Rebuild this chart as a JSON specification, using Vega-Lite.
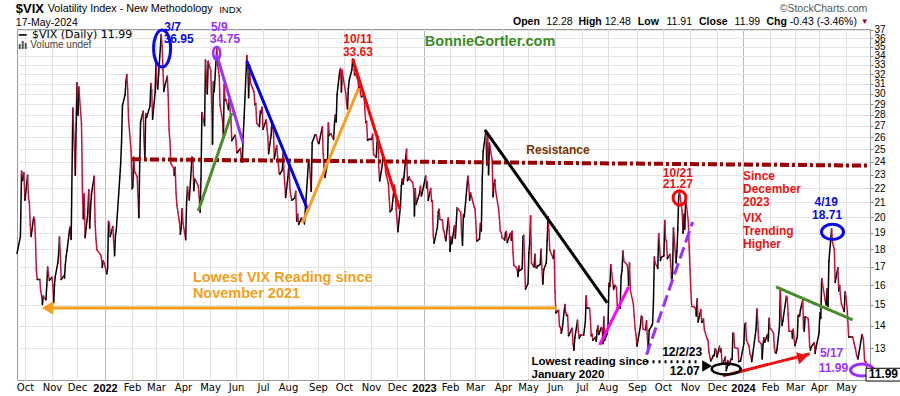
{
"$schema": "https://vega.github.io/schema/vega-lite/v6.json",
"width": 853, "height": 351,
"autosize": {"type": "none"},
"padding": {"left": 17, "top": 29, "right": 30, "bottom": 16},
"background": "white",
"config": {"view": {"stroke": "#9a9a9a", "strokeWidth": 1}, "text": {"font": "Liberation Sans"}},
"datasets": {"vix": [
{"d":"2021-09-24","v":17.75},{"d":"2021-09-27","v":18.76},{"d":"2021-09-28","v":23.25},{"d":"2021-09-29","v":22.56},{"d":"2021-09-30","v":23.14},
{"d":"2021-10-01","v":21.15},{"d":"2021-10-04","v":22.96},{"d":"2021-10-05","v":21.30},{"d":"2021-10-06","v":21.00},{"d":"2021-10-07","v":19.54},{"d":"2021-10-08","v":18.77},{"d":"2021-10-11","v":20.00},{"d":"2021-10-12","v":19.85},{"d":"2021-10-13","v":18.64},{"d":"2021-10-14","v":16.86},{"d":"2021-10-15","v":16.30},{"d":"2021-10-18","v":16.30},{"d":"2021-10-19","v":15.70},{"d":"2021-10-20","v":15.49},{"d":"2021-10-21","v":15.01},{"d":"2021-10-22","v":15.43},{"d":"2021-10-25","v":15.24},{"d":"2021-10-26","v":15.98},{"d":"2021-10-27","v":16.98},{"d":"2021-10-28","v":16.53},{"d":"2021-10-29","v":16.26},
{"d":"2021-11-01","v":16.41},{"d":"2021-11-02","v":16.03},{"d":"2021-11-03","v":15.10},{"d":"2021-11-04","v":16.00},{"d":"2021-11-05","v":16.48},{"d":"2021-11-08","v":17.22},{"d":"2021-11-09","v":17.78},{"d":"2021-11-10","v":18.73},{"d":"2021-11-11","v":17.66},{"d":"2021-11-12","v":16.29},{"d":"2021-11-15","v":16.49},{"d":"2021-11-16","v":16.37},{"d":"2021-11-17","v":17.11},{"d":"2021-11-18","v":17.59},{"d":"2021-11-19","v":17.91},{"d":"2021-11-22","v":19.17},{"d":"2021-11-23","v":19.38},{"d":"2021-11-24","v":18.58},{"d":"2021-11-26","v":28.62},{"d":"2021-11-29","v":22.96},{"d":"2021-11-30","v":27.19},
{"d":"2021-12-01","v":31.12},{"d":"2021-12-02","v":27.95},{"d":"2021-12-03","v":30.67},{"d":"2021-12-06","v":27.18},{"d":"2021-12-07","v":21.89},{"d":"2021-12-08","v":19.90},{"d":"2021-12-09","v":21.58},{"d":"2021-12-10","v":18.69},{"d":"2021-12-13","v":20.31},{"d":"2021-12-14","v":21.89},{"d":"2021-12-15","v":19.29},{"d":"2021-12-16","v":20.57},{"d":"2021-12-17","v":21.57},{"d":"2021-12-20","v":22.87},{"d":"2021-12-21","v":19.70},{"d":"2021-12-22","v":18.63},{"d":"2021-12-23","v":17.96},{"d":"2021-12-27","v":17.68},{"d":"2021-12-28","v":17.54},{"d":"2021-12-29","v":16.95},{"d":"2021-12-30","v":17.33},{"d":"2021-12-31","v":17.22},
{"d":"2022-01-03","v":16.60},{"d":"2022-01-04","v":16.91},{"d":"2022-01-05","v":19.73},{"d":"2022-01-06","v":19.61},{"d":"2022-01-07","v":18.76},{"d":"2022-01-10","v":19.40},{"d":"2022-01-11","v":18.41},{"d":"2022-01-12","v":17.62},{"d":"2022-01-13","v":18.83},{"d":"2022-01-14","v":19.19},{"d":"2022-01-18","v":22.79},{"d":"2022-01-19","v":23.85},{"d":"2022-01-20","v":25.59},{"d":"2022-01-21","v":28.85},{"d":"2022-01-24","v":29.90},{"d":"2022-01-25","v":31.16},{"d":"2022-01-26","v":31.96},{"d":"2022-01-27","v":30.49},{"d":"2022-01-28","v":27.66},{"d":"2022-01-31","v":24.83},
{"d":"2022-02-01","v":21.96},{"d":"2022-02-02","v":22.09},{"d":"2022-02-03","v":24.35},{"d":"2022-02-04","v":23.22},{"d":"2022-02-07","v":22.86},{"d":"2022-02-08","v":21.44},{"d":"2022-02-09","v":19.96},{"d":"2022-02-10","v":23.91},{"d":"2022-02-11","v":27.36},{"d":"2022-02-14","v":28.33},{"d":"2022-02-15","v":25.70},{"d":"2022-02-16","v":24.29},{"d":"2022-02-17","v":28.11},{"d":"2022-02-18","v":27.75},{"d":"2022-02-22","v":28.81},{"d":"2022-02-23","v":31.02},{"d":"2022-02-24","v":30.32},{"d":"2022-02-25","v":27.59},{"d":"2022-02-28","v":30.15},
{"d":"2022-03-01","v":33.32},{"d":"2022-03-02","v":31.00},{"d":"2022-03-03","v":30.48},{"d":"2022-03-04","v":31.98},{"d":"2022-03-07","v":36.45},{"d":"2022-03-08","v":35.13},{"d":"2022-03-09","v":32.45},{"d":"2022-03-10","v":30.23},{"d":"2022-03-11","v":30.75},{"d":"2022-03-14","v":31.77},{"d":"2022-03-15","v":29.83},{"d":"2022-03-16","v":26.67},{"d":"2022-03-17","v":25.67},{"d":"2022-03-18","v":23.87},{"d":"2022-03-21","v":23.53},{"d":"2022-03-22","v":22.94},{"d":"2022-03-23","v":23.57},{"d":"2022-03-24","v":21.67},{"d":"2022-03-25","v":20.81},{"d":"2022-03-28","v":19.63},{"d":"2022-03-29","v":18.90},{"d":"2022-03-30","v":19.33},{"d":"2022-03-31","v":20.56},
{"d":"2022-04-01","v":19.63},{"d":"2022-04-04","v":18.57},{"d":"2022-04-05","v":21.03},{"d":"2022-04-06","v":22.10},{"d":"2022-04-07","v":21.55},{"d":"2022-04-08","v":21.16},{"d":"2022-04-11","v":24.37},{"d":"2022-04-12","v":24.26},{"d":"2022-04-13","v":21.82},{"d":"2022-04-14","v":22.70},{"d":"2022-04-18","v":22.17},{"d":"2022-04-19","v":21.37},{"d":"2022-04-20","v":20.32},{"d":"2022-04-21","v":22.68},{"d":"2022-04-22","v":28.21},{"d":"2022-04-25","v":27.02},{"d":"2022-04-26","v":33.52},{"d":"2022-04-27","v":31.60},{"d":"2022-04-28","v":29.99},{"d":"2022-04-29","v":33.40},
{"d":"2022-05-02","v":32.34},{"d":"2022-05-03","v":29.25},{"d":"2022-05-04","v":25.42},{"d":"2022-05-05","v":31.20},{"d":"2022-05-06","v":30.19},{"d":"2022-05-09","v":34.75},{"d":"2022-05-10","v":32.99},{"d":"2022-05-11","v":32.56},{"d":"2022-05-12","v":31.77},{"d":"2022-05-13","v":28.87},{"d":"2022-05-16","v":27.47},{"d":"2022-05-17","v":26.10},{"d":"2022-05-18","v":30.96},{"d":"2022-05-19","v":29.35},{"d":"2022-05-20","v":29.43},{"d":"2022-05-23","v":28.48},{"d":"2022-05-24","v":29.45},{"d":"2022-05-25","v":28.37},{"d":"2022-05-26","v":27.50},{"d":"2022-05-27","v":25.72},{"d":"2022-05-31","v":26.19},
{"d":"2022-06-01","v":25.69},{"d":"2022-06-02","v":24.72},{"d":"2022-06-03","v":24.79},{"d":"2022-06-06","v":25.07},{"d":"2022-06-07","v":24.02},{"d":"2022-06-08","v":23.96},{"d":"2022-06-09","v":26.09},{"d":"2022-06-10","v":27.75},{"d":"2022-06-13","v":34.02},{"d":"2022-06-14","v":32.69},{"d":"2022-06-15","v":29.62},{"d":"2022-06-16","v":32.95},{"d":"2022-06-17","v":31.13},{"d":"2022-06-21","v":30.19},{"d":"2022-06-22","v":28.95},{"d":"2022-06-23","v":29.05},{"d":"2022-06-24","v":27.23},{"d":"2022-06-27","v":26.95},{"d":"2022-06-28","v":28.36},{"d":"2022-06-29","v":28.16},{"d":"2022-06-30","v":28.71},
{"d":"2022-07-01","v":26.70},{"d":"2022-07-05","v":27.54},{"d":"2022-07-06","v":26.73},{"d":"2022-07-07","v":26.08},{"d":"2022-07-08","v":24.64},{"d":"2022-07-11","v":26.17},{"d":"2022-07-12","v":27.29},{"d":"2022-07-13","v":26.82},{"d":"2022-07-14","v":26.40},{"d":"2022-07-15","v":24.23},{"d":"2022-07-18","v":25.30},{"d":"2022-07-19","v":24.50},{"d":"2022-07-20","v":23.88},{"d":"2022-07-21","v":23.11},{"d":"2022-07-22","v":23.03},{"d":"2022-07-25","v":23.36},{"d":"2022-07-26","v":24.69},{"d":"2022-07-27","v":23.24},{"d":"2022-07-28","v":22.33},{"d":"2022-07-29","v":21.33},
{"d":"2022-08-01","v":22.84},{"d":"2022-08-02","v":23.93},{"d":"2022-08-03","v":21.95},{"d":"2022-08-04","v":21.44},{"d":"2022-08-05","v":21.15},{"d":"2022-08-08","v":21.29},{"d":"2022-08-09","v":21.77},{"d":"2022-08-10","v":19.74},{"d":"2022-08-11","v":20.20},{"d":"2022-08-12","v":19.53},{"d":"2022-08-15","v":19.95},{"d":"2022-08-16","v":19.69},{"d":"2022-08-17","v":19.90},{"d":"2022-08-18","v":19.56},{"d":"2022-08-19","v":20.60},{"d":"2022-08-22","v":23.80},{"d":"2022-08-23","v":24.11},{"d":"2022-08-24","v":22.82},{"d":"2022-08-25","v":21.78},{"d":"2022-08-26","v":25.56},{"d":"2022-08-29","v":26.21},{"d":"2022-08-30","v":26.21},{"d":"2022-08-31","v":25.87},
{"d":"2022-09-01","v":25.56},{"d":"2022-09-02","v":25.47},{"d":"2022-09-06","v":26.91},{"d":"2022-09-07","v":24.64},{"d":"2022-09-08","v":23.61},{"d":"2022-09-09","v":22.79},{"d":"2022-09-12","v":23.87},{"d":"2022-09-13","v":27.27},{"d":"2022-09-14","v":26.16},{"d":"2022-09-15","v":26.27},{"d":"2022-09-16","v":26.30},{"d":"2022-09-19","v":25.81},{"d":"2022-09-20","v":27.16},{"d":"2022-09-21","v":27.99},{"d":"2022-09-22","v":27.35},{"d":"2022-09-23","v":29.92},{"d":"2022-09-26","v":32.26},{"d":"2022-09-27","v":32.60},{"d":"2022-09-28","v":30.18},{"d":"2022-09-29","v":32.45},{"d":"2022-09-30","v":31.62},
{"d":"2022-10-03","v":30.10},{"d":"2022-10-04","v":29.07},{"d":"2022-10-05","v":28.55},{"d":"2022-10-06","v":30.52},{"d":"2022-10-07","v":31.36},{"d":"2022-10-10","v":32.45},{"d":"2022-10-11","v":33.63},{"d":"2022-10-12","v":33.57},{"d":"2022-10-13","v":31.94},{"d":"2022-10-14","v":32.02},{"d":"2022-10-17","v":31.37},{"d":"2022-10-18","v":30.50},{"d":"2022-10-19","v":30.76},{"d":"2022-10-20","v":29.98},{"d":"2022-10-21","v":29.69},{"d":"2022-10-24","v":29.85},{"d":"2022-10-25","v":28.46},{"d":"2022-10-26","v":27.28},{"d":"2022-10-27","v":27.39},{"d":"2022-10-28","v":25.75},{"d":"2022-10-31","v":25.88},
{"d":"2022-11-01","v":25.81},{"d":"2022-11-02","v":25.86},{"d":"2022-11-03","v":26.27},{"d":"2022-11-04","v":24.55},{"d":"2022-11-07","v":24.35},{"d":"2022-11-08","v":25.54},{"d":"2022-11-09","v":26.09},{"d":"2022-11-10","v":23.53},{"d":"2022-11-11","v":22.52},{"d":"2022-11-14","v":23.73},{"d":"2022-11-15","v":24.54},{"d":"2022-11-16","v":24.11},{"d":"2022-11-17","v":23.93},{"d":"2022-11-18","v":23.12},{"d":"2022-11-21","v":22.36},{"d":"2022-11-22","v":21.27},{"d":"2022-11-23","v":20.35},{"d":"2022-11-25","v":20.50},{"d":"2022-11-28","v":22.21},{"d":"2022-11-29","v":21.89},{"d":"2022-11-30","v":20.58},
{"d":"2022-12-01","v":19.84},{"d":"2022-12-02","v":19.06},{"d":"2022-12-05","v":20.75},{"d":"2022-12-06","v":22.15},{"d":"2022-12-07","v":22.68},{"d":"2022-12-08","v":22.29},{"d":"2022-12-09","v":22.83},{"d":"2022-12-12","v":25.00},{"d":"2022-12-13","v":22.55},{"d":"2022-12-14","v":22.67},{"d":"2022-12-15","v":22.83},{"d":"2022-12-16","v":22.62},{"d":"2022-12-19","v":22.42},{"d":"2022-12-20","v":21.97},{"d":"2022-12-21","v":20.07},{"d":"2022-12-22","v":21.97},{"d":"2022-12-23","v":20.87},{"d":"2022-12-27","v":21.65},{"d":"2022-12-28","v":22.14},{"d":"2022-12-29","v":21.44},{"d":"2022-12-30","v":21.67},
{"d":"2023-01-03","v":22.90},{"d":"2023-01-04","v":22.01},{"d":"2023-01-05","v":22.46},{"d":"2023-01-06","v":21.13},{"d":"2023-01-09","v":21.97},{"d":"2023-01-10","v":21.09},{"d":"2023-01-11","v":21.12},{"d":"2023-01-12","v":18.83},{"d":"2023-01-13","v":18.35},{"d":"2023-01-17","v":19.36},{"d":"2023-01-18","v":20.34},{"d":"2023-01-19","v":20.52},{"d":"2023-01-20","v":19.85},{"d":"2023-01-23","v":19.81},{"d":"2023-01-24","v":19.20},{"d":"2023-01-25","v":19.08},{"d":"2023-01-26","v":18.73},{"d":"2023-01-27","v":18.51},{"d":"2023-01-30","v":19.94},{"d":"2023-01-31","v":19.40},
{"d":"2023-02-01","v":17.87},{"d":"2023-02-02","v":18.73},{"d":"2023-02-03","v":18.33},{"d":"2023-02-06","v":19.43},{"d":"2023-02-07","v":18.66},{"d":"2023-02-08","v":19.63},{"d":"2023-02-09","v":20.63},{"d":"2023-02-10","v":20.53},{"d":"2023-02-13","v":20.34},{"d":"2023-02-14","v":18.91},{"d":"2023-02-15","v":18.23},{"d":"2023-02-16","v":20.17},{"d":"2023-02-17","v":20.02},{"d":"2023-02-21","v":22.87},{"d":"2023-02-22","v":22.29},{"d":"2023-02-23","v":21.14},{"d":"2023-02-24","v":21.67},{"d":"2023-02-27","v":20.95},{"d":"2023-02-28","v":20.70},
{"d":"2023-03-01","v":20.58},{"d":"2023-03-02","v":19.59},{"d":"2023-03-03","v":18.49},{"d":"2023-03-06","v":18.61},{"d":"2023-03-07","v":19.59},{"d":"2023-03-08","v":19.11},{"d":"2023-03-09","v":22.61},{"d":"2023-03-10","v":24.80},{"d":"2023-03-13","v":26.52},{"d":"2023-03-14","v":23.73},{"d":"2023-03-15","v":26.14},{"d":"2023-03-16","v":22.99},{"d":"2023-03-17","v":25.51},{"d":"2023-03-20","v":24.12},{"d":"2023-03-21","v":21.38},{"d":"2023-03-22","v":22.26},{"d":"2023-03-23","v":22.61},{"d":"2023-03-24","v":21.74},{"d":"2023-03-27","v":20.60},{"d":"2023-03-28","v":19.97},{"d":"2023-03-29","v":19.12},{"d":"2023-03-30","v":19.02},{"d":"2023-03-31","v":18.70},
{"d":"2023-04-03","v":18.55},{"d":"2023-04-04","v":19.00},{"d":"2023-04-05","v":19.08},{"d":"2023-04-06","v":18.40},{"d":"2023-04-10","v":18.97},{"d":"2023-04-11","v":18.53},{"d":"2023-04-12","v":19.09},{"d":"2023-04-13","v":17.80},{"d":"2023-04-14","v":17.07},{"d":"2023-04-17","v":16.95},{"d":"2023-04-18","v":16.83},{"d":"2023-04-19","v":16.46},{"d":"2023-04-20","v":17.03},{"d":"2023-04-21","v":16.77},{"d":"2023-04-24","v":16.89},{"d":"2023-04-25","v":18.76},{"d":"2023-04-26","v":18.84},{"d":"2023-04-27","v":17.03},{"d":"2023-04-28","v":15.78},
{"d":"2023-05-01","v":16.08},{"d":"2023-05-02","v":17.78},{"d":"2023-05-03","v":18.34},{"d":"2023-05-04","v":20.09},{"d":"2023-05-05","v":17.19},{"d":"2023-05-08","v":16.98},{"d":"2023-05-09","v":17.71},{"d":"2023-05-10","v":16.94},{"d":"2023-05-11","v":16.93},{"d":"2023-05-12","v":17.03},{"d":"2023-05-15","v":17.12},{"d":"2023-05-16","v":17.99},{"d":"2023-05-17","v":16.87},{"d":"2023-05-18","v":16.05},{"d":"2023-05-19","v":16.81},{"d":"2023-05-22","v":17.21},{"d":"2023-05-23","v":18.53},{"d":"2023-05-24","v":20.03},{"d":"2023-05-25","v":19.14},{"d":"2023-05-26","v":17.95},{"d":"2023-05-30","v":17.46},{"d":"2023-05-31","v":17.94},
{"d":"2023-06-01","v":15.65},{"d":"2023-06-02","v":14.60},{"d":"2023-06-05","v":14.73},{"d":"2023-06-06","v":13.96},{"d":"2023-06-07","v":13.94},{"d":"2023-06-08","v":13.65},{"d":"2023-06-09","v":13.83},{"d":"2023-06-12","v":15.01},{"d":"2023-06-13","v":14.61},{"d":"2023-06-14","v":14.46},{"d":"2023-06-15","v":14.50},{"d":"2023-06-16","v":13.54},{"d":"2023-06-20","v":13.88},{"d":"2023-06-21","v":13.20},{"d":"2023-06-22","v":12.91},{"d":"2023-06-23","v":13.44},{"d":"2023-06-26","v":14.25},{"d":"2023-06-27","v":13.74},{"d":"2023-06-28","v":13.43},{"d":"2023-06-29","v":13.54},{"d":"2023-06-30","v":13.59},
{"d":"2023-07-03","v":13.57},{"d":"2023-07-05","v":14.18},{"d":"2023-07-06","v":15.44},{"d":"2023-07-07","v":14.83},{"d":"2023-07-10","v":14.84},{"d":"2023-07-11","v":14.30},{"d":"2023-07-12","v":13.54},{"d":"2023-07-13","v":13.61},{"d":"2023-07-14","v":13.34},{"d":"2023-07-17","v":13.48},{"d":"2023-07-18","v":13.30},{"d":"2023-07-19","v":13.76},{"d":"2023-07-20","v":13.99},{"d":"2023-07-21","v":13.60},{"d":"2023-07-24","v":13.91},{"d":"2023-07-25","v":13.86},{"d":"2023-07-26","v":13.19},{"d":"2023-07-27","v":14.41},{"d":"2023-07-28","v":13.33},{"d":"2023-07-31","v":13.63},
{"d":"2023-08-01","v":13.93},{"d":"2023-08-02","v":16.09},{"d":"2023-08-03","v":15.92},{"d":"2023-08-04","v":17.10},{"d":"2023-08-07","v":15.77},{"d":"2023-08-08","v":15.99},{"d":"2023-08-09","v":15.96},{"d":"2023-08-10","v":15.85},{"d":"2023-08-11","v":14.84},{"d":"2023-08-14","v":14.82},{"d":"2023-08-15","v":16.46},{"d":"2023-08-16","v":16.78},{"d":"2023-08-17","v":17.89},{"d":"2023-08-18","v":17.30},{"d":"2023-08-21","v":17.13},{"d":"2023-08-22","v":16.97},{"d":"2023-08-23","v":15.98},{"d":"2023-08-24","v":17.20},{"d":"2023-08-25","v":15.68},{"d":"2023-08-28","v":15.08},{"d":"2023-08-29","v":14.45},{"d":"2023-08-30","v":13.88},{"d":"2023-08-31","v":13.57},
{"d":"2023-09-01","v":13.09},{"d":"2023-09-05","v":14.00},{"d":"2023-09-06","v":14.45},{"d":"2023-09-07","v":14.40},{"d":"2023-09-08","v":13.84},{"d":"2023-09-11","v":13.80},{"d":"2023-09-12","v":14.23},{"d":"2023-09-13","v":13.48},{"d":"2023-09-14","v":12.82},{"d":"2023-09-15","v":13.79},{"d":"2023-09-18","v":14.00},{"d":"2023-09-19","v":14.11},{"d":"2023-09-20","v":15.14},{"d":"2023-09-21","v":17.54},{"d":"2023-09-22","v":17.20},{"d":"2023-09-25","v":16.90},{"d":"2023-09-26","v":18.94},{"d":"2023-09-27","v":18.22},{"d":"2023-09-28","v":17.34},{"d":"2023-09-29","v":17.52},
{"d":"2023-10-02","v":17.61},{"d":"2023-10-03","v":19.78},{"d":"2023-10-04","v":18.58},{"d":"2023-10-05","v":18.49},{"d":"2023-10-06","v":17.45},{"d":"2023-10-09","v":17.70},{"d":"2023-10-10","v":17.03},{"d":"2023-10-11","v":16.09},{"d":"2023-10-12","v":16.69},{"d":"2023-10-13","v":19.32},{"d":"2023-10-16","v":17.21},{"d":"2023-10-17","v":17.88},{"d":"2023-10-18","v":19.22},{"d":"2023-10-19","v":21.40},{"d":"2023-10-20","v":21.71},{"d":"2023-10-23","v":20.37},{"d":"2023-10-24","v":18.97},{"d":"2023-10-25","v":20.19},{"d":"2023-10-26","v":19.22},{"d":"2023-10-27","v":21.27},{"d":"2023-10-30","v":19.75},{"d":"2023-10-31","v":18.14},
{"d":"2023-11-01","v":16.87},{"d":"2023-11-02","v":15.66},{"d":"2023-11-03","v":14.91},{"d":"2023-11-06","v":14.89},{"d":"2023-11-07","v":14.81},{"d":"2023-11-08","v":14.45},{"d":"2023-11-09","v":15.29},{"d":"2023-11-10","v":14.17},{"d":"2023-11-13","v":14.76},{"d":"2023-11-14","v":14.16},{"d":"2023-11-15","v":14.18},{"d":"2023-11-16","v":14.32},{"d":"2023-11-17","v":13.80},{"d":"2023-11-20","v":13.41},{"d":"2023-11-21","v":13.35},{"d":"2023-11-22","v":12.85},{"d":"2023-11-24","v":12.46},{"d":"2023-11-27","v":12.69},{"d":"2023-11-28","v":12.69},{"d":"2023-11-29","v":12.98},{"d":"2023-11-30","v":12.92},
{"d":"2023-12-01","v":12.63},{"d":"2023-12-04","v":13.08},{"d":"2023-12-05","v":12.85},{"d":"2023-12-06","v":12.97},{"d":"2023-12-07","v":12.35},{"d":"2023-12-08","v":12.35},{"d":"2023-12-11","v":12.63},{"d":"2023-12-12","v":12.07},{"d":"2023-12-13","v":12.19},{"d":"2023-12-14","v":12.48},{"d":"2023-12-15","v":12.28},{"d":"2023-12-18","v":12.56},{"d":"2023-12-19","v":12.53},{"d":"2023-12-20","v":13.67},{"d":"2023-12-21","v":13.65},{"d":"2023-12-22","v":13.03},{"d":"2023-12-26","v":12.99},{"d":"2023-12-27","v":12.43},{"d":"2023-12-28","v":12.47},{"d":"2023-12-29","v":12.45},
{"d":"2024-01-02","v":13.20},{"d":"2024-01-03","v":14.04},{"d":"2024-01-04","v":14.13},{"d":"2024-01-05","v":13.35},{"d":"2024-01-08","v":13.08},{"d":"2024-01-09","v":12.76},{"d":"2024-01-10","v":12.69},{"d":"2024-01-11","v":12.44},{"d":"2024-01-12","v":12.70},{"d":"2024-01-16","v":13.84},{"d":"2024-01-17","v":14.79},{"d":"2024-01-18","v":14.13},{"d":"2024-01-19","v":13.30},{"d":"2024-01-22","v":13.19},{"d":"2024-01-23","v":12.55},{"d":"2024-01-24","v":13.14},{"d":"2024-01-25","v":13.45},{"d":"2024-01-26","v":13.26},{"d":"2024-01-29","v":13.60},{"d":"2024-01-30","v":13.31},{"d":"2024-01-31","v":14.35},
{"d":"2024-02-01","v":13.88},{"d":"2024-02-02","v":13.85},{"d":"2024-02-05","v":13.67},{"d":"2024-02-06","v":13.06},{"d":"2024-02-07","v":12.83},{"d":"2024-02-08","v":12.79},{"d":"2024-02-09","v":12.93},{"d":"2024-02-12","v":13.93},{"d":"2024-02-13","v":15.85},{"d":"2024-02-14","v":14.38},{"d":"2024-02-15","v":14.01},{"d":"2024-02-16","v":14.24},{"d":"2024-02-20","v":15.42},{"d":"2024-02-21","v":15.34},{"d":"2024-02-22","v":14.54},{"d":"2024-02-23","v":13.75},{"d":"2024-02-26","v":13.74},{"d":"2024-02-27","v":13.43},{"d":"2024-02-28","v":13.84},{"d":"2024-02-29","v":13.40},
{"d":"2024-03-01","v":13.11},{"d":"2024-03-04","v":13.49},{"d":"2024-03-05","v":14.46},{"d":"2024-03-06","v":14.50},{"d":"2024-03-07","v":14.44},{"d":"2024-03-08","v":14.74},{"d":"2024-03-11","v":15.23},{"d":"2024-03-12","v":13.88},{"d":"2024-03-13","v":13.75},{"d":"2024-03-14","v":14.40},{"d":"2024-03-15","v":14.41},{"d":"2024-03-18","v":14.33},{"d":"2024-03-19","v":13.82},{"d":"2024-03-20","v":13.04},{"d":"2024-03-21","v":12.92},{"d":"2024-03-22","v":13.06},{"d":"2024-03-25","v":13.19},{"d":"2024-03-26","v":13.24},{"d":"2024-03-27","v":12.78},{"d":"2024-03-28","v":13.01},
{"d":"2024-04-01","v":13.65},{"d":"2024-04-02","v":14.61},{"d":"2024-04-03","v":14.33},{"d":"2024-04-04","v":16.35},{"d":"2024-04-05","v":16.03},{"d":"2024-04-08","v":15.19},{"d":"2024-04-09","v":14.98},{"d":"2024-04-10","v":15.80},{"d":"2024-04-11","v":14.91},{"d":"2024-04-12","v":17.31},{"d":"2024-04-15","v":19.23},{"d":"2024-04-16","v":18.40},{"d":"2024-04-17","v":18.21},{"d":"2024-04-18","v":18.00},{"d":"2024-04-19","v":16.14},{"d":"2024-04-22","v":16.94},{"d":"2024-04-23","v":15.69},{"d":"2024-04-24","v":15.97},{"d":"2024-04-25","v":15.37},{"d":"2024-04-26","v":15.03},{"d":"2024-04-29","v":14.67},{"d":"2024-04-30","v":15.65},
{"d":"2024-05-01","v":15.39},{"d":"2024-05-02","v":14.68},{"d":"2024-05-03","v":13.49},{"d":"2024-05-06","v":13.49},{"d":"2024-05-07","v":13.23},{"d":"2024-05-08","v":13.00},{"d":"2024-05-09","v":12.69},{"d":"2024-05-10","v":12.55},{"d":"2024-05-13","v":13.60},{"d":"2024-05-14","v":13.42},{"d":"2024-05-15","v":12.45},{"d":"2024-05-16","v":12.42},{"d":"2024-05-17","v":11.99}
]},
"encoding": {
 "x": {"field": "d", "type": "temporal",
  "scale": {"type": "utc", "nice": false,
   "domain": {"expr": "[1632441600000,1633046400000,1635724800000,1638316800000,1640995200000,1643673600000,1646092800000,1648771200000,1651363200000,1654041600000,1656633600000,1659312000000,1661990400000,1664582400000,1667260800000,1669852800000,1672531200000,1675209600000,1677628800000,1680307200000,1682899200000,1685577600000,1688169600000,1690848000000,1693526400000,1696118400000,1698796800000,1701388800000,1704067200000,1706745600000,1709251200000,1711929600000,1714521600000,1716076800000]"},
   "range": [0,8,35,60,88,115,139,166,193,219,246,271,301,327,354,380,407,433,458,486,511,538,565,591,620,646,673,700,726,753,778,802,829,853]},
  "axis": {
   "values": [1633046400000,1635724800000,1638316800000,1640995200000,1643673600000,1646092800000,1648771200000,1651363200000,1654041600000,1656633600000,1659312000000,1661990400000,1664582400000,1667260800000,1669852800000,1672531200000,1675209600000,1677628800000,1680307200000,1682899200000,1685577600000,1688169600000,1690848000000,1693526400000,1696118400000,1698796800000,1701388800000,1704067200000,1706745600000,1709251200000,1711929600000,1714521600000],
   "labelExpr": "utcmonth(datum.value) == 0 ? utcFormat(datum.value, '%Y') : utcFormat(datum.value, '%b')",
   "labelFont": {"condition": {"test": "utcmonth(datum.value) == 0", "value": "Liberation Sans"}, "value": "DejaVu Sans"},
   "labelFontSize": {"condition": {"test": "utcmonth(datum.value) == 0", "value": 11}, "value": 10},
   "labelFontWeight": {"condition": {"test": "utcmonth(datum.value) == 0", "value": "bold"}, "value": "normal"},
   "labelColor": "#000000", "labelPadding": 2, "ticks": false, "tickSize": 0, "domain": false,
   "grid": true,
   "gridColor": {"condition": {"test": "utcmonth(datum.value) == 0", "value": "#b8b8b8"}, "value": "#e0e0e0"},
   "labelOverlap": false, "labelFlush": false, "labelBound": false, "title": null}},
 "y": {"field": "v", "type": "quantitative",
  "scale": {"type": "log", "domain": [11.71, 37.12], "nice": false},
  "axis": {"orient": "right", "values": [13,14,15,16,17,18,19,20,21,22,23,24,25,26,27,28,29,30,31,32,33,34,35,36,37], "format": "d",
   "grid": true, "gridColor": "#e4e4e4", "tickColor": "#8a8a8a", "tickSize": 3,
   "labelFont": "Liberation Sans", "labelFontSize": 10, "labelColor": "#000000", "labelPadding": 1,
   "domain": false, "title": null, "labelOverlap": false, "labelFlush": false}}
},
"layer": [
 {"data": {"name": "vix"},
  "transform": [{"window": [{"op": "lag", "field": "v", "as": "pv"}, {"op": "lag", "field": "d", "as": "pd"}], "sort": [{"field": "d"}]}, {"filter": "datum.pv != null"}],
  "mark": {"type": "rule", "strokeWidth": 1.5, "strokeCap": "round"},
  "encoding": {"x2": {"field": "pd"}, "y2": {"field": "pv"},
   "color": {"condition": {"test": "datum.v >= datum.pv", "value": "#000000"}, "value": "#cc0f3a"}}},
 {"data": {"values": [{"d":"2022-02-01","v":24.19,"d2":"2024-05-19","v2":23.69}], "format": {"parse": {"d": "date", "d2": "date"}}},
  "mark": {"type": "rule", "color": "#990000", "strokeWidth": 4, "strokeDash": [9, 3, 3, 3]},
  "encoding": {"x2": {"field": "d2"}, "y2": {"field": "v2"}}},
 {"data": {"values": [
   {"id":"g1","d":"2022-04-18","v":20.41,"d2":"2022-05-27","v2":28.16},
   {"id":"p1","d":"2022-05-09","v":34.08,"d2":"2022-06-09","v2":25.52},
   {"id":"b1","d":"2022-06-13","v":33.41,"d2":"2022-08-21","v2":20.55},
   {"id":"o1","d":"2022-08-16","v":19.62,"d2":"2022-10-18","v2":30.58},
   {"id":"r1","d":"2022-10-11","v":33.63,"d2":"2022-12-04","v2":20.55},
   {"id":"k1","d":"2023-03-12","v":26.64,"d2":"2023-07-31","v2":15.09},
   {"id":"m1","d":"2023-07-22","v":13.14,"d2":"2023-08-23","v2":15.90},
   {"id":"p2","d":"2023-09-12","v":12.72,"d2":"2023-11-04","v2":19.69},
   {"id":"g2","d":"2024-02-08","v":15.90,"d2":"2024-05-06","v2":14.27},
   {"id":"r2","d":"2023-12-08","v":11.87,"d2":"2024-03-20","v2":12.76},
   {"id":"o2","d":"2021-10-30","v":14.84,"d2":"2023-06-03","v2":14.84},
   {"id":"k2","d":"2023-09-12","v":12.43,"d2":"2023-11-12","v2":12.43}],
   "format": {"parse": {"d": "date", "d2": "date"}}},
  "mark": {"type": "rule", "strokeWidth": 3},
  "encoding": {"x2": {"field": "d2"}, "y2": {"field": "v2"},
   "color": {"field": "id", "type": "nominal", "legend": null,
    "scale": {"domain": ["g1","p1","b1","o1","r1","k1","m1","p2","g2","r2","o2","k2"],
     "range": ["#4a8c2a","#9b30ff","#0000ee","#f5a020","#ff0000","#000000","#ff00ff","#9b30ff","#4a8c2a","#ee1111","#f2a01e","#000000"]}},
   "strokeDash": {"field": "id", "type": "nominal", "legend": null,
    "scale": {"domain": ["g1","p1","b1","o1","r1","k1","m1","p2","g2","r2","o2","k2"],
     "range": [[1,0],[1,0],[1,0],[1,0],[1,0],[1,0],[1,0],[12,5],[1,0],[1,0],[1,0],[2,4]]}}}},
 {"data": {"values": [{"d":"2021-10-27","v":14.84}]},
  "mark": {"type": "point", "shape": "triangle-left", "size": 180, "filled": true, "color": "#f2a01e", "opacity": 1}},
 {"data": {"values": [{"d":"2024-03-11","v":12.63}]},
  "mark": {"type": "point", "shape": "triangle-right", "angle": -14, "size": 150, "filled": true, "color": "#ee1111", "opacity": 1}},
 {"data": {"values": [{"d":"2023-11-20","v":12.26}]},
  "mark": {"type": "point", "shape": "triangle-right", "size": 130, "filled": true, "color": "#000000", "opacity": 1}},
 {"data": {"values": [{"d":"2022-03-08","v":34.81}]},
  "mark": {"type": "point", "shape": "M0,-1C0.254,-1,0.46,-0.552,0.46,0C0.46,0.552,0.254,1,0,1C-0.254,1,-0.46,0.552,-0.46,0C-0.46,-0.552,-0.254,-1,0,-1Z", "size": 1369, "filled": false, "color": "#0a0ae6", "strokeWidth": 3, "opacity": 1}},
 {"data": {"values": [{"d":"2022-05-09","v":34.27}]},
  "mark": {"type": "point", "shape": "M0,-1C0.304,-1,0.55,-0.552,0.55,0C0.55,0.552,0.304,1,0,1C-0.304,1,-0.55,0.552,-0.55,0C-0.55,-0.552,-0.304,-1,0,-1Z", "size": 169, "filled": false, "color": "#9b30ff", "strokeWidth": 2.5, "opacity": 1}},
 {"data": {"values": [{"d":"2023-10-20","v":21.30}]},
  "mark": {"type": "point", "shape": "M0,-1C0.486,-1,0.88,-0.552,0.88,0C0.88,0.552,0.486,1,0,1C-0.486,1,-0.88,0.552,-0.88,0C-0.88,-0.552,-0.486,-1,0,-1Z", "size": 210, "filled": false, "color": "#ff0000", "strokeWidth": 3, "opacity": 1}},
 {"data": {"values": [{"d":"2024-04-16","v":19.05}]},
  "mark": {"type": "point", "shape": "M-1,0C-1,-0.381,-0.552,-0.69,0,-0.69C0.552,-0.69,1,-0.381,1,0C1,0.381,0.552,0.69,0,0.69C-0.552,0.69,-1,0.381,-1,0Z", "size": 484, "filled": false, "color": "#0a0ae6", "strokeWidth": 3, "opacity": 1}},
 {"data": {"values": [{"d":"2023-12-12","v":12.14}]},
  "mark": {"type": "point", "shape": "M-1,0C-1,-0.21,-0.552,-0.38,0,-0.38C0.552,-0.38,1,-0.21,1,0C1,0.21,0.552,0.38,0,0.38C-0.552,0.38,-1,0.21,-1,0Z", "size": 841, "filled": false, "color": "#000000", "strokeWidth": 2.5, "opacity": 1}},
 {"data": {"values": [{"d":"2024-05-13","v":12.10}]},
  "mark": {"type": "point", "shape": "M-1,0C-1,-0.287,-0.552,-0.52,0,-0.52C0.552,-0.52,1,-0.287,1,0C1,0.287,0.552,0.52,0,0.52C-0.552,0.52,-1,0.287,-1,0Z", "size": 529, "filled": false, "color": "#9b30ff", "strokeWidth": 3, "opacity": 1}},
 {"data": {"values": [{"d":"2024-05-16","v":12.17,"d2":"2024-06-11","v2":11.67}], "format": {"parse": {"d": "date", "d2": "date"}}},
  "mark": {"type": "rect", "fill": "#ffffff", "stroke": "#000000", "strokeWidth": 1},
  "encoding": {"x2": {"field": "d2"}, "y2": {"field": "v2"}}},
 {"data": {"values": [{"d":"2024-05-29","v":11.93,"t":"11.99"}]},
  "mark": {"type": "text", "font": "Liberation Sans", "fontWeight": "bold", "fontSize": 12, "align": "center", "baseline": "middle", "color": "#000000"},
  "encoding": {"text": {"field": "t"}}},
 {"data": {"values": [{"d":"2021-09-23","v":39.58,"t":"$VIX"}]},
  "mark": {"type": "text", "fontWeight": "bold", "fontSize": 13, "align": "left", "baseline": "middle", "color": "#000000"},
  "encoding": {"text": {"field": "t"}}},
 {"data": {"values": [{"d":"2023-04-13","v":37.99,"t":"Open"},{"d":"2023-06-27","v":37.99,"t":"High"},{"d":"2023-09-02","v":37.99,"t":"Low"},{"d":"2023-11-11","v":37.99,"t":"Close"},{"d":"2024-01-28","v":37.99,"t":"Chg"}]},
  "mark": {"type": "text", "fontWeight": "bold", "fontSize": 10.5, "align": "left", "baseline": "middle", "color": "#000000"},
  "encoding": {"text": {"field": "t"}}},
 {"data": {"values": [{"d":"2021-10-27","v":39.58,"t":"Volatility Index - New Methodology"}]},
  "mark": {"type": "text", "fontSize": 10.8, "align": "left", "baseline": "middle", "color": "#000000"},
  "encoding": {"text": {"field": "t"}}},
 {"data": {"values": [{"d":"2021-09-23","v":37.86,"t":"17-May-2024"},{"d":"2023-05-22","v":37.99,"t":"12.28"},{"d":"2023-07-28","v":37.99,"t":"12.48"},{"d":"2023-10-05","v":37.99,"t":"11.91"},{"d":"2023-12-22","v":37.99,"t":"11.99"},{"d":"2024-02-24","v":37.99,"t":"-0.43 (-3.46%)"}]},
  "mark": {"type": "text", "fontSize": 10.5, "align": "left", "baseline": "middle", "color": "#000000"},
  "encoding": {"text": {"field": "t"}}},
 {"data": {"values": [{"d":"2022-05-12","v":39.5,"t":"INDX"}]},
  "mark": {"type": "text", "fontSize": 9.5, "align": "left", "baseline": "middle", "color": "#000000"},
  "encoding": {"text": {"field": "t"}}},
 {"data": {"values": [{"d":"2024-05-17","v":39.64,"t":"©StockCharts.com"}]},
  "mark": {"type": "text", "fontSize": 10.5, "align": "right", "baseline": "middle", "color": "#555555"},
  "encoding": {"text": {"field": "t"}}},
 {"data": {"values": [{"d":"2024-05-15","v":37.99,"t":"▼"}]},
  "mark": {"type": "text", "fontSize": 8, "align": "center", "baseline": "middle", "color": "#990033"},
  "encoding": {"text": {"field": "t"}}},
 {"data": {"values": [{"d":"2021-09-29","v":36.40}]},
  "mark": {"type": "point", "shape": "M-1,-0.2L1,-0.2L1,0.2L-1,0.2Z", "size": 64, "filled": true, "color": "#000000", "opacity": 1}},
 {"data": {"values": [{"d":"2021-09-29","v":35.23}]},
  "mark": {"type": "point", "shape": "M-1,1L-1,-0.2L-0.5,-0.2L-0.5,1ZM-0.25,1L-0.25,-1L0.25,-1L0.25,1ZM0.5,1L0.5,-0.5L1,-0.5L1,1Z", "size": 64, "filled": true, "color": "#555555", "opacity": 1}},
 {"data": {"values": [{"d":"2021-10-09","v":36.40,"t":"$VIX (Daily) 11.99"}]},
  "mark": {"type": "text", "font": "DejaVu Sans", "fontSize": 11, "align": "left", "baseline": "middle", "color": "#000000"},
  "encoding": {"text": {"field": "t"}}},
 {"data": {"values": [{"d":"2021-10-07","v":35.23,"t":"Volume undef"}]},
  "mark": {"type": "text", "fontSize": 10, "align": "left", "baseline": "middle", "color": "#444444"},
  "encoding": {"text": {"field": "t"}}},
 {"data": {"values": [{"d":"2022-03-20","v":37.37,"t":"3/7"},{"d":"2022-03-27","v":35.92,"t":"36.95"},{"d":"2024-04-09","v":21.03,"t":"4/19"},{"d":"2024-04-10","v":20.15,"t":"18.71"}]},
  "mark": {"type": "text", "fontWeight": "bold", "fontSize": 12, "align": "center", "baseline": "middle", "color": "#0a0ae6"},
  "encoding": {"text": {"field": "t"}}},
 {"data": {"values": [{"d":"2022-05-12","v":37.37,"t":"5/9"},{"d":"2022-05-19","v":35.92,"t":"34.75"},{"d":"2024-04-15","v":12.79,"t":"5/17"},{"d":"2024-04-17","v":12.17,"t":"11.99"}]},
  "mark": {"type": "text", "fontWeight": "bold", "fontSize": 12, "align": "center", "baseline": "middle", "color": "#9b30ff"},
  "encoding": {"text": {"field": "t"}}},
 {"data": {"values": [{"d":"2022-10-17","v":35.92,"t":"10/11"},{"d":"2022-10-17","v":34.42,"t":"33.63"},{"d":"2023-10-18","v":23.14,"t":"10/21"},{"d":"2023-10-18","v":22.27,"t":"21.27"}]},
  "mark": {"type": "text", "fontWeight": "bold", "fontSize": 12, "align": "center", "baseline": "middle", "color": "#ee1111"},
  "encoding": {"text": {"field": "t"}}},
 {"data": {"values": [{"d":"2024-01-01","v":22.90,"t":"Since"},{"d":"2024-01-01","v":21.94,"t":"December"},{"d":"2024-01-01","v":21.03,"t":"2023"},{"d":"2024-01-01","v":19.95,"t":"VIX"},{"d":"2024-01-01","v":19.11,"t":"Trending"},{"d":"2024-01-01","v":18.31,"t":"Higher"}]},
  "mark": {"type": "text", "fontWeight": "bold", "fontSize": 12, "align": "left", "baseline": "middle", "color": "#ee1111"},
  "encoding": {"text": {"field": "t"}}},
 {"data": {"values": [{"d":"2023-10-23","v":12.83,"t":"12/2/23"},{"d":"2023-10-26","v":12.08,"t":"12.07"}]},
  "mark": {"type": "text", "fontWeight": "bold", "fontSize": 12, "align": "center", "baseline": "middle", "color": "#000000"},
  "encoding": {"text": {"field": "t"}}},
 {"data": {"values": [{"d":"2023-05-05","v":12.44,"t":"Lowest reading since"},{"d":"2023-05-05","v":11.91,"t":"January 2020"}]},
  "mark": {"type": "text", "fontWeight": "bold", "fontSize": 11.5, "align": "left", "baseline": "middle", "color": "#000000"},
  "encoding": {"text": {"field": "t"}}},
 {"data": {"values": [{"d":"2022-04-12","v":16.38,"t":"Lowest VIX Reading since"},{"d":"2022-04-12","v":15.54,"t":"November 2021"}]},
  "mark": {"type": "text", "fontWeight": "bold", "fontSize": 14.5, "align": "left", "baseline": "middle", "color": "#f2a01e"},
  "encoding": {"text": {"field": "t"}}},
 {"data": {"values": [{"d":"2023-01-02","v":35.61,"t":"BonnieGortler.com"}]},
  "mark": {"type": "text", "fontWeight": "bold", "fontSize": 14.5, "align": "left", "baseline": "middle", "color": "#3d8b24"},
  "encoding": {"text": {"field": "t"}}},
 {"data": {"values": [{"d":"2023-04-29","v":24.94,"t":"Resistance"}]},
  "mark": {"type": "text", "fontWeight": "bold", "fontSize": 12, "align": "left", "baseline": "middle", "color": "#7a3300"},
  "encoding": {"text": {"field": "t"}}}
]
}
